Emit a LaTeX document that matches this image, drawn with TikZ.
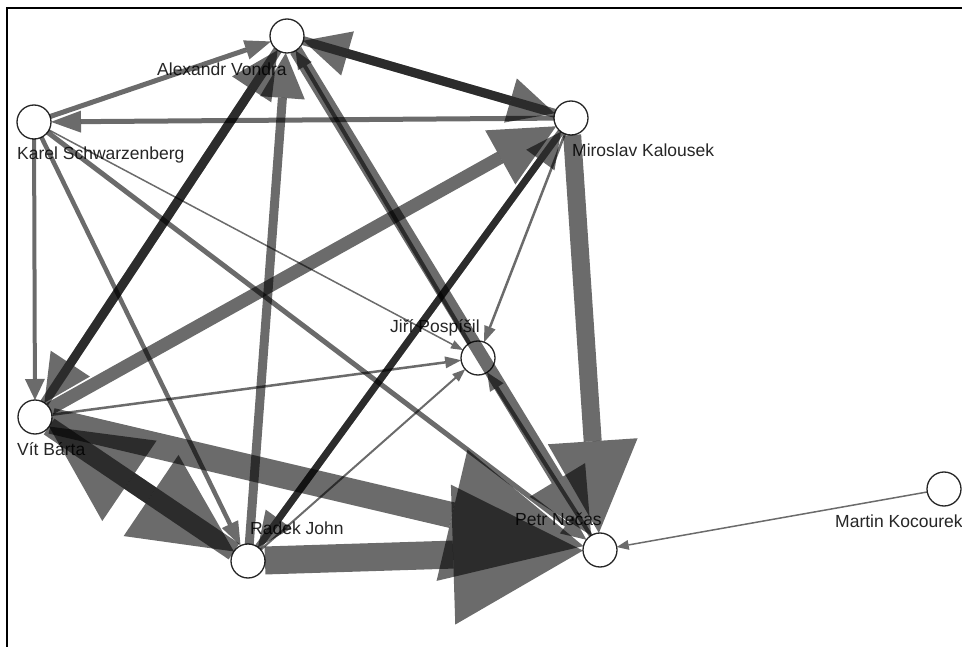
\documentclass[tikz,border=0pt]{standalone}
\usepackage{fontspec}
\setmainfont{Liberation Sans}
\usetikzlibrary{calc}
\tikzset{
  vertex/.style={circle, draw=black!85, line width=1.3pt, fill=white, minimum size=34pt, inner sep=0pt},
  lbl/.style={anchor=base west, inner sep=0pt, font=\fontsize{17.5}{20}\selectfont, text=black!85},
  edgeline/.style={draw=black, draw opacity=0.58},
  edgehead/.style={fill=black, fill opacity=0.58},
  frameline/.style={draw=black, line width=2pt},
}
% from, to, line width, head length, head width (all in pt)
\newcommand{\grEdge}[5]{%
  \coordinate (hb) at ($(#2)!17pt+#4pt!(#1)$);
  \draw[edgeline, line width=#3pt] ($(#1)!17pt!(#2)$) -- (hb);
  \fill[edgehead] ($(#2)!17pt!(#1)$) -- ($(hb)!#5pt/2!90:(#2)$) -- ($(hb)!#5pt/2!-90:(#2)$) -- cycle;
}
\begin{document}
\begin{tikzpicture}[x=1pt, y=-1pt]
\useasboundingbox (0,0) rectangle (962,647);
\fill[white] (0,0) rectangle (962,647);
\draw[frameline] (7,650) -- (7,8) -- (965,8);

% nodes
\node[vertex] (V) at (287,36) {};
\node[vertex] (K) at (571,118) {};
\node[vertex] (S) at (34,122) {};
\node[vertex] (P) at (478,358) {};
\node[vertex] (B) at (35,417) {};
\node[vertex] (J) at (248,561) {};
\node[vertex] (N) at (600,550) {};
\node[vertex] (M) at (944,489) {};

% labels
\node[lbl] (lV) at (157,76) {Alexandr Vondra};
\node[lbl] (lS) at (17,160) {Karel Schwarzenberg};
\node[lbl] (lK) at (572,157) {Miroslav Kalousek};
\node[lbl] (lP) at (390,333) {Jiří Pospíšil};
\node[lbl] (lB) at (17,455) {Vít Bárta};
\node[lbl] (lJ) at (250,534) {Radek John};
\node[lbl] (lN) at (515,525) {Petr Nečas};
\node[lbl] (lM) at (835,527) {Martin Kocourek};

% edges
\grEdge{S}{V}{5}{26}{20}
\grEdge{K}{S}{5}{30}{22}
\grEdge{S}{B}{4}{21}{20}
\grEdge{S}{J}{4.5}{24}{18}
\grEdge{S}{N}{5}{25}{22}
\grEdge{S}{P}{1.5}{12}{9}
\grEdge{V}{K}{9}{46}{46}
\grEdge{K}{V}{9}{46}{46}
\grEdge{V}{B}{9}{47}{47}
\grEdge{B}{V}{9}{47}{47}
\grEdge{J}{V}{9}{45}{45}
\grEdge{V}{N}{13}{65}{65}
\grEdge{P}{V}{4}{18}{16}
\grEdge{N}{P}{4}{18}{16}
\grEdge{J}{K}{7}{35}{35}
\grEdge{K}{J}{7}{35}{32}
\grEdge{B}{K}{13}{64}{62}
\grEdge{B}{P}{2.5}{16}{12}
\grEdge{B}{J}{19}{100}{98}
\grEdge{J}{B}{19}{97}{97}
\grEdge{B}{N}{26}{135}{135}
\grEdge{J}{N}{28}{130}{140}
\grEdge{J}{P}{2}{13}{10}
\grEdge{K}{N}{18}{92}{90}
\grEdge{K}{P}{2.5}{16}{12}
\grEdge{M}{N}{1.5}{12}{10}
\end{tikzpicture}
\end{document}
